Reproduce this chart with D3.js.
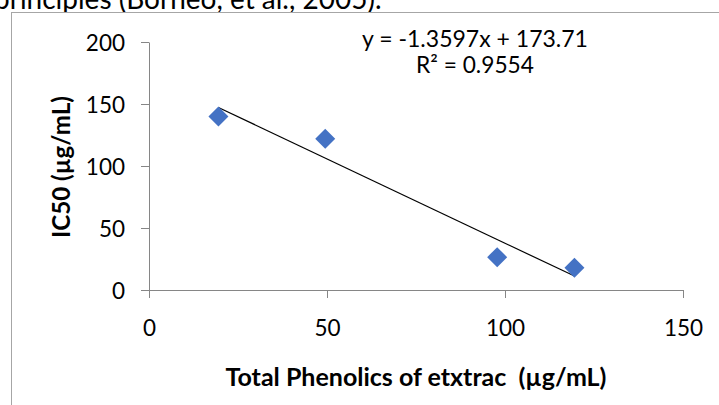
<!DOCTYPE html>
<html><head><meta charset="utf-8">
<script src="https://cdn.jsdelivr.net/npm/d3@7"></script>
<style>html,body{margin:0;padding:0;background:#fff;overflow:hidden} text{white-space:pre}</style>
</head><body>
<svg id="c" width="719" height="405"></svg>
<script>
const xValues = [19.5, 49.5, 97.8, 119.5];
const yValues = [140, 122, 26.5, 18];
const xTicks = [0, 50, 100, 150];
const yTicks = [0, 50, 100, 150, 200];
const trendCoef = [-1.3597, 173.71];
const eqLabels = ["y = -1.3597x + 173.71", "R² = 0.9554"];
const xTitle = "Total Phenolics of etxtrac  (µg/mL)";
const yTitle = "IC50 (µg/mL)";
const docText = "principles (Borneo, et al., 2005).";

const font = "Lato, 'Open Sans', sans-serif";
const svg = d3.select("#c");
const x = d3.scaleLinear().domain([0,150]).range([149,683]);
const y = d3.scaleLinear().domain([0,200]).range([290,42]);

function fit(sel, w){ const n=sel.node(); const fs=parseFloat(sel.attr("font-size")); const l=n.getComputedTextLength(); sel.attr("font-size", fs*w/l); }

// clipped document text
svg.append("text").attr("x",-6).attr("y",9).attr("font-family",font).attr("font-size",28).attr("fill","#000").text(docText);

// chart frame
svg.append("rect").attr("x",11.5).attr("y",12.5).attr("width",760).attr("height",420).attr("fill","#fff").attr("stroke","#a6a6a6").attr("stroke-width",1);

const gx = svg.append("g").attr("transform","translate(0,290)")
  .call(d3.axisBottom(x).tickValues(xTicks).tickSize(8).tickSizeOuter(0).tickPadding(24));
const gy = svg.append("g").attr("transform","translate(149,0)")
  .call(d3.axisLeft(y).tickValues(yTicks).tickSize(8).tickSizeOuter(0).tickPadding(16));
[gx,gy].forEach(g=>{
  g.selectAll("path,line").attr("stroke","#868686");
  g.selectAll("text").attr("font-family",font).attr("font-size",22.5).attr("fill","#000");
});
gy.selectAll("text").attr("dy","0.36em");
gx.selectAll("text").attr("dy","0.6em");

// trendline
const xe = d3.extent(xValues);
svg.append("line").attr("x1",x(xe[0])).attr("y1",y(trendCoef[0]*xe[0]+trendCoef[1]))
  .attr("x2",x(xe[1])).attr("y2",y(trendCoef[0]*xe[1]+trendCoef[1]))
  .attr("stroke","#000").attr("stroke-width",1.2);

// markers
const sym = d3.symbol().type(d3.symbolSquare).size(200);
svg.selectAll("path.pt").data(xValues).join("path").attr("class","pt")
  .attr("d",sym).attr("fill","#4472C4")
  .attr("transform",(d,i)=>`translate(${x(d)},${y(yValues[i])}) rotate(45)`);

// equation
const e1 = svg.append("text").attr("x",475).attr("y",47).attr("text-anchor","middle").attr("font-family",font).attr("font-size",20).text(eqLabels[0]);
fit(e1,226);
const e2 = svg.append("text").attr("x",475).attr("y",73).attr("text-anchor","middle").attr("font-family",font).attr("font-size",20).text(eqLabels[1]);
fit(e2,118);

// titles
const xt = svg.append("text").attr("x",416).attr("y",386).attr("text-anchor","middle").attr("font-family",font).attr("font-weight","bold").attr("font-size",20).text(xTitle);
fit(xt,381);
const yt = svg.append("text").attr("transform","translate(70,167) rotate(-90)").attr("text-anchor","middle").attr("font-family",font).attr("font-weight","bold").attr("font-size",20).text(yTitle);
fit(yt,142);
</script>
</body></html>
